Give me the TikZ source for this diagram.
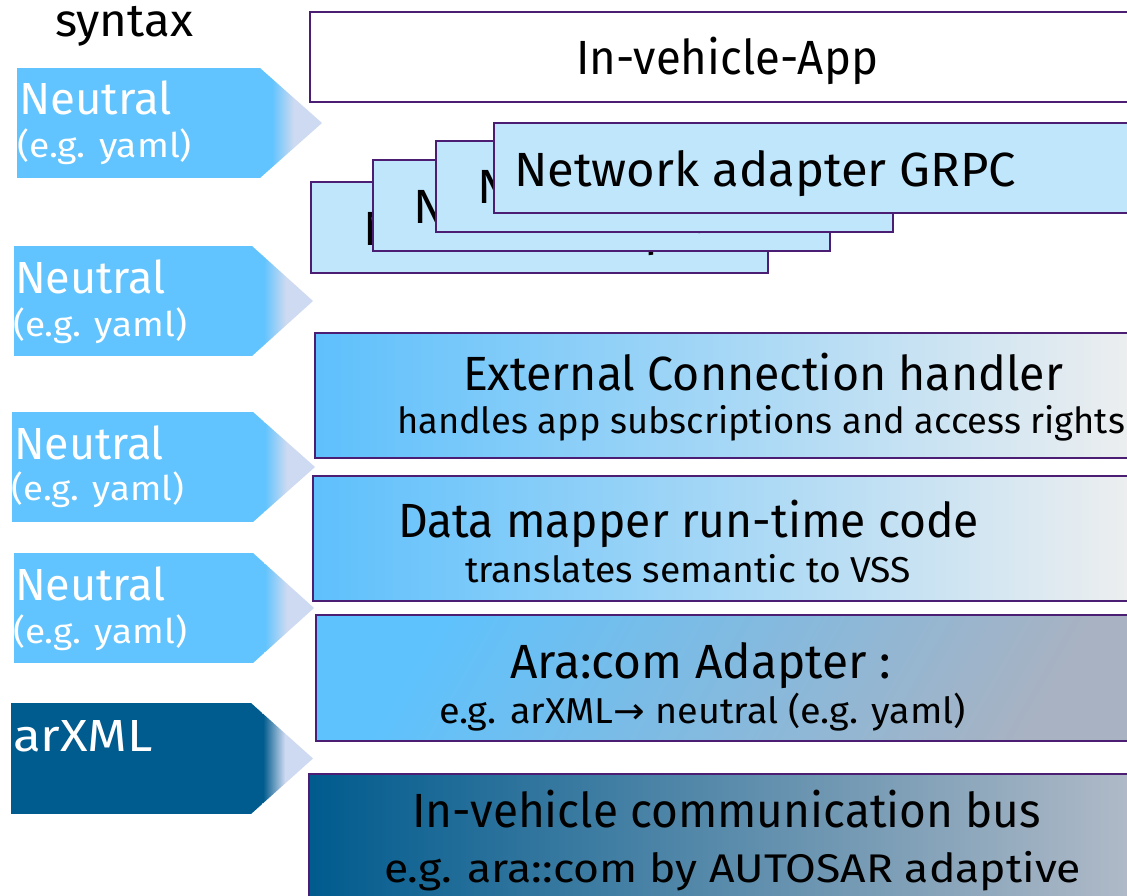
\documentclass[tikz,border=0pt]{standalone}
\usepackage{fontspec}
\setmainfont{Fira Sans}
\newfontfamily\symf{DejaVu Sans}
\usepackage{graphicx}
\definecolor{bord}{RGB}{75,30,115}
\definecolor{skyb}{RGB}{98,196,254}
\definecolor{lav}{RGB}{206,218,241}
\definecolor{navy}{RGB}{0,91,142}
\definecolor{netfill}{RGB}{192,230,251}
\definecolor{lgray}{RGB}{239,239,239}
\definecolor{bgray}{RGB}{178,187,200}
\newcommand{\fw}[2]{\resizebox{#1pt}{\height}{#2}}
\newcommand{\ptr}[6]{%
  \begin{scope}
    \clip (#1,#2) -- (#4,#2) -- (#5,{(#2+#3)/2}) -- (#4,#3) -- (#1,#3) -- cycle;
    \fill[#6] (#1,#2) rectangle ({#4+12},#3);
    \shade[left color=#6, right color=lav] ({#4+12},#2) rectangle ({#4+34},#3);
    \fill[lav] ({#4+34},#2) rectangle ({#5+1},#3);
  \end{scope}}
\tikzset{
  boxx/.style={draw=bord, line width=2.3pt, inner sep=0pt, outer sep=0pt, anchor=north west},
  txt/.style={inner sep=0pt, outer sep=0pt, anchor=base west, text=black},
  ttl/.style={txt, font=\fontsize{48}{50}\selectfont},
  sub/.style={txt, font=\fontsize{36}{40}\selectfont},
  wbig/.style={txt, text=white, font=\fontsize{45}{50}\selectfont},
  wsml/.style={txt, text=white, font=\fontsize{34}{40}\selectfont},
}
\begin{document}
\begin{tikzpicture}[x=1pt,y=-1pt]
\useasboundingbox (0,0) rectangle (1127,896);
\fill[white] (0,0) rectangle (1127,896);

% left column
\node[txt, font=\fontsize{46}{50}\selectfont] (syn) at (55,37) {\fw{138}{syntax}};

\ptr{17}{68}{178}{260}{322}{skyb}
\node[wbig] (n1) at (19,115) {\fw{153}{Neutral}};
\node[wsml] (e1) at (17,158) {\fw{175}{(e.g. yaml)}};

\ptr{14}{246}{356}{252}{313}{skyb}
\node[wbig] (n2) at (15,293) {\fw{151}{Neutral}};
\node[wsml] (e2) at (13,336) {\fw{174}{(e.g. yaml)}};

\ptr{12}{412}{522}{253}{315}{skyb}
\node[wbig] (n3) at (14,459) {\fw{150}{Neutral}};
\node[wsml] (e3) at (12,500) {\fw{172}{(e.g. yaml)}};

\ptr{14}{553}{663}{253}{314}{skyb}
\node[wbig] (n4) at (15,600) {\fw{151}{Neutral}};
\node[wsml] (e4) at (13,643) {\fw{174}{(e.g. yaml)}};

\ptr{11}{703}{814}{251}{313}{navy}
\node[wbig] (ax) at (13,751) {\fw{140}{arXML}};

% In-vehicle-App
\node[boxx, fill=white, minimum width=830pt, minimum height=90pt] (app) at (310,12) {};
\node[ttl] (appt) at (576,75) {\fw{302}{In-vehicle-App}};

% network adapter stack
\node[boxx, fill=netfill, minimum width=457pt, minimum height=91pt] (na1) at (311,182) {};
\begin{scope}
  \clip (na1.north west) rectangle (na1.south east);
  \node[ttl] (na1t) at (363,245) {\fw{502}{Network adapter GRPC}};
\end{scope}
\node[boxx, fill=netfill, minimum width=457pt, minimum height=91pt] (na2) at (373,160) {};
\begin{scope}
  \clip (na2.north west) rectangle (na2.south east);
  \node[ttl] (na2t) at (413,223) {\fw{502}{Network adapter GRPC}};
\end{scope}
\node[boxx, fill=netfill, minimum width=457pt, minimum height=91pt] (na3) at (436,141) {};
\begin{scope}
  \clip (na3.north west) rectangle (na3.south east);
  \node[ttl] (na3t) at (477,204) {\fw{502}{Network adapter GRPC}};
\end{scope}
\node[boxx, fill=netfill, minimum width=650pt, minimum height=90pt] (na4) at (494,123) {};
\node[ttl] (na4t) at (514,187) {\fw{502}{Network adapter GRPC}};

% External connection handler
\node[boxx, minimum width=830pt, minimum height=125pt,
  left color={rgb,255:red,94;green,192;blue,252}, middle color={rgb,255:red,200;green,226;blue,243},
  right color=lgray] (ext) at (315,333) {};
\node[ttl] (extt) at (463,390) {\fw{600}{External Connection handler}};
\node[sub] (exts) at (397,433) {\fw{728}{handles app subscriptions and access rights}};

% Data mapper
\node[boxx, minimum width=830pt, minimum height=125pt,
  left color={rgb,255:red,94;green,192;blue,252}, middle color={rgb,255:red,205;green,228;blue,242},
  right color=lgray] (dm) at (313,476) {};
\node[ttl] (dmt) at (398,537) {\fw{581}{Data mapper run-time code}};
\node[sub] (dms) at (465,582) {\fw{446}{translates semantic to VSS}};

% Ara:com adapter
\node[boxx, minimum width=830pt, minimum height=126pt,
  left color={rgb,255:red,94;green,194;blue,253}, middle color={rgb,255:red,112;green,188;blue,238},
  right color={rgb,255:red,168;green,178;blue,194}, shading angle=60] (ara) at (316,615) {};
\node[ttl] (arat) at (510,678) {\fw{381}{Ara:com Adapter :}};
\node[sub] (aras) at (439,723) {\fw{527}{e.g. arXML{\symf →} neutral (e.g. yaml)}};

% bus
\node[boxx, minimum width=830pt, minimum height=140pt,
  left color=navy, middle color={rgb,255:red,150;green,170;blue,190},
  right color=bgray] (bus) at (309,774) {};
\node[ttl] (bust) at (412,827) {\fw{629}{In-vehicle communication bus}};
\node[sub, font=\fontsize{40}{44}\selectfont] (buss) at (384,882) {\fw{697}{e.g. ara::com by AUTOSAR adaptive}};
\end{tikzpicture}
\end{document}
